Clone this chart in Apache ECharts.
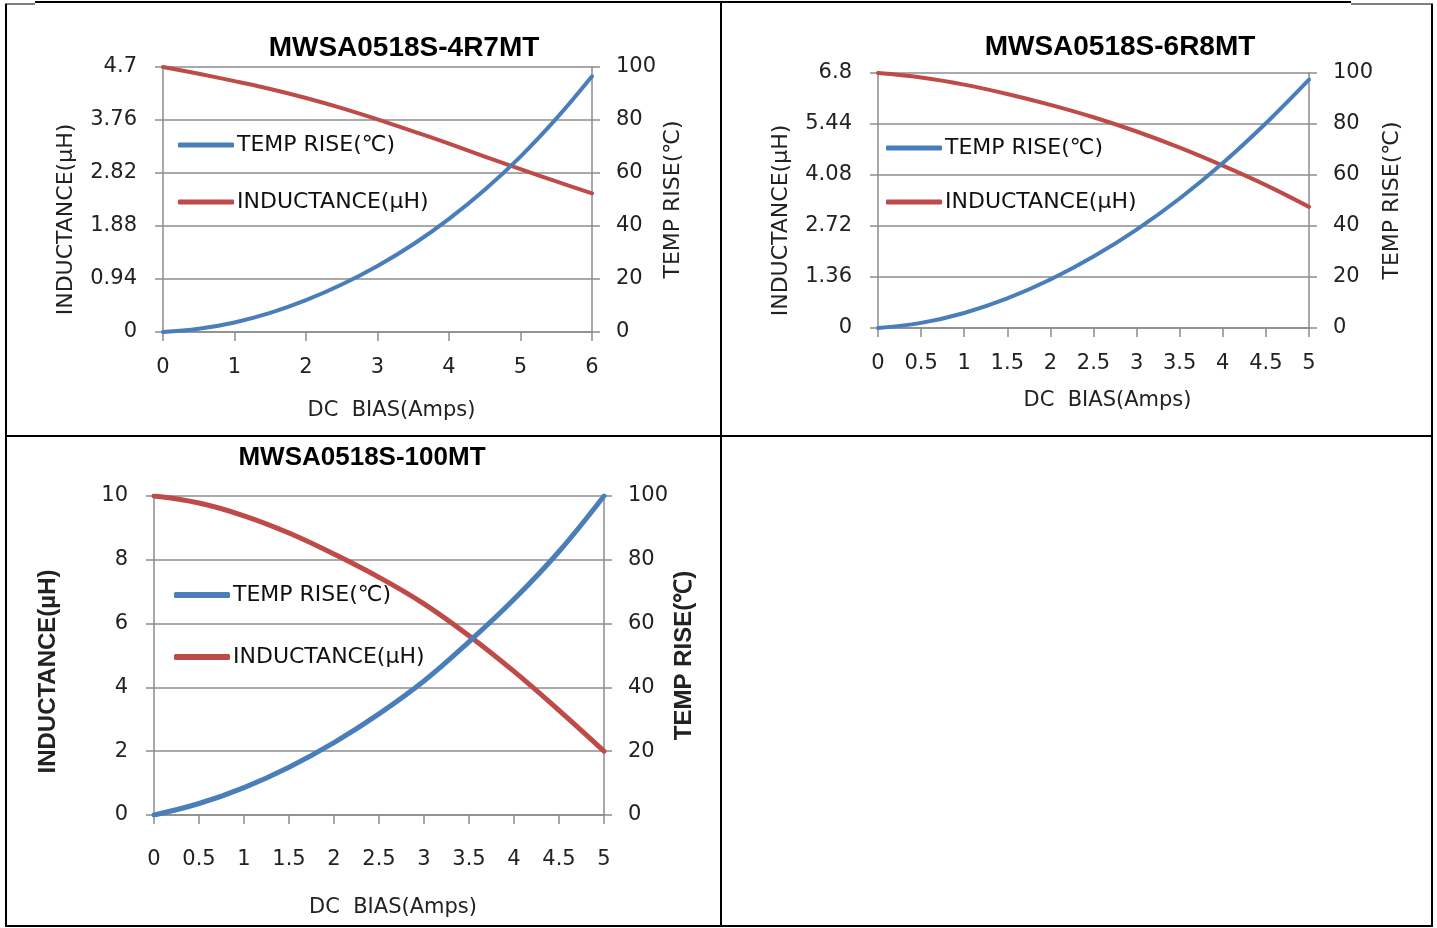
<!DOCTYPE html>
<html><head><meta charset="utf-8">
<script src="https://cdn.jsdelivr.net/npm/echarts@6/dist/echarts.min.js"></script>
<style>html,body{margin:0;padding:0;background:#fff;}#c{width:1437px;height:928px;}</style>
</head><body><div id="c"></div>
<script>
// ---- data ----
const chartTitles = ['MWSA0518S-4R7MT', 'MWSA0518S-6R8MT', 'MWSA0518S-100MT'];
const tempName = 'TEMP RISE(℃)';
const indName = 'INDUCTANCE(µH)';
const xName = 'DC  BIAS(Amps)';

const c1Bias = [0, 0.5, 1, 1.5, 2, 2.5, 3, 3.5, 4, 4.5, 5, 5.5, 6];
const c1Temp = [0, 1.2, 3.6, 7.2, 12, 17.9, 24.9, 33.1, 42.7, 53.7, 66.2, 80.5, 96.5];
const c1Ind = [4.7, 4.58, 4.45, 4.31, 4.15, 3.97, 3.77, 3.56, 3.34, 3.11, 2.89, 2.67, 2.46];
const c1IndTicks = ['0', '0.94', '1.88', '2.82', '3.76', '4.7'];

const c2Bias = [0, 0.5, 1, 1.5, 2, 2.5, 3, 3.5, 4, 4.5, 5];
const c2Temp = [0, 2.0, 5.9, 11.6, 19, 28, 38.6, 50.8, 64.7, 80.3, 97.4];
const c2Ind = [6.8, 6.68, 6.49, 6.24, 5.95, 5.62, 5.24, 4.81, 4.33, 3.81, 3.23];
const c2IndTicks = ['0', '1.36', '2.72', '4.08', '5.44', '6.8'];

const c3Bias = [0, 0.5, 1, 1.5, 2, 2.5, 3, 3.5, 4, 4.5, 5];
const c3Temp = [0, 3.6, 8.6, 15, 22.7, 31.7, 42, 54.3, 67.6, 82.6, 100];
const c3Ind = [10, 9.78, 9.38, 8.84, 8.18, 7.45, 6.62, 5.62, 4.5, 3.28, 2.0];
const c3IndTicks = ['0', '2', '4', '6', '8', '10'];

const tempTicks = ['0', '20', '40', '60', '80', '100'];

// ---- styling / layout ----
const BLUE = '#4A7EBB', RED = '#BE4B48', GRID = '#8c8c8c', TXT = '#222';
const tickFont = { fontFamily: 'DejaVu Sans', fontSize: 21, color: TXT };
const pairs = (xs, ys) => xs.map((x, i) => [x, ys[i]]);

const charts = [
  { bias: c1Bias, temp: c1Temp, ind: c1Ind, indTicks: c1IndTicks, indMax: 4.7, indStep: 0.94, xMax: 6, xStep: 1,
    grid: { left: 163, top: 67, width: 429, height: 265 },
    title: { x: 404, y: 48, font: 'Liberation Sans', size: 28 },
    nameFont: { fontFamily: 'DejaVu Sans', fontSize: 22, fontWeight: 'normal' }, xNameSize: 21,
    leftGap: 86, rightGap: 70, leftShift: 40, xGap: 68, xLabelMargin: 25,
    legend: { left: 178, top: 134, gap: 35, h: 5 }, lw: 4 },
  { bias: c2Bias, temp: c2Temp, ind: c2Ind, indTicks: c2IndTicks, indMax: 6.8, indStep: 1.36, xMax: 5, xStep: 0.5,
    grid: { left: 878, top: 73, width: 431, height: 255 },
    title: { x: 1120, y: 47, font: 'Liberation Sans', size: 28 },
    nameFont: { fontFamily: 'DejaVu Sans', fontSize: 22, fontWeight: 'normal' }, xNameSize: 21,
    leftGap: 86, rightGap: 72, leftShift: 40, xGap: 62, xLabelMargin: 25,
    legend: { left: 886, top: 137, gap: 32, h: 5 }, lw: 4 },
  { bias: c3Bias, temp: c3Temp, ind: c3Ind, indTicks: c3IndTicks, indMax: 10, indStep: 2, xMax: 5, xStep: 0.5,
    grid: { left: 154, top: 496, width: 450, height: 319 },
    title: { x: 362, y: 458, font: 'Liberation Sans', size: 26 },
    nameFont: { fontFamily: 'Liberation Sans', fontSize: 24, fontWeight: 'bold' }, xNameSize: 21,
    leftGap: 94, rightGap: 67, leftShift: 32, xGap: 82, xLabelMargin: 34,
    legend: { left: 174, top: 584, gap: 40, h: 6 }, lw: 5 }
];

const option = {
  animation: false,
  backgroundColor: '#fff',
  title: [], grid: [], xAxis: [], yAxis: [], series: [], legend: [],
  graphic: []
};

charts.forEach((c, k) => {
  option.title.push({
    text: chartTitles[k], left: c.title.x, top: c.title.y, padding: 0,
    textAlign: 'center', textVerticalAlign: 'middle',
    textStyle: { fontFamily: c.title.font, fontSize: c.title.size, fontWeight: 'bold', color: '#000' }
  });
  option.grid.push(Object.assign({ containLabel: false, outerBoundsMode: 'none' }, c.grid));
  option.xAxis.push({
    type: 'value', gridIndex: k, min: 0, max: c.xMax, interval: c.xStep,
    name: xName, nameLocation: 'middle', nameGap: c.xGap,
    nameTextStyle: { fontFamily: 'DejaVu Sans', fontSize: c.xNameSize, color: TXT, padding: [0, 0, 0, 28] },
    axisLine: { show: true, lineStyle: { color: GRID, width: 1.5 } },
    axisTick: { show: true, length: 9, lineStyle: { color: GRID, width: 1.5 } },
    axisLabel: Object.assign({ margin: c.xLabelMargin }, tickFont),
    splitLine: { show: false }
  });
  option.yAxis.push({
    type: 'value', gridIndex: k, position: 'left', min: 0, max: c.indMax, interval: c.indStep,
    name: indName, nameLocation: 'middle', nameRotate: 90, nameGap: c.leftGap,
    nameTextStyle: Object.assign({ color: TXT, padding: [0, c.leftShift, 0, 0] }, c.nameFont),
    axisLine: { show: true, lineStyle: { color: GRID, width: 1.5 } },
    axisTick: { show: true, length: 8, lineStyle: { color: GRID, width: 1.5 } },
    axisLabel: Object.assign({ margin: 26, formatter: (v, i) => c.indTicks[i] }, tickFont),
    splitLine: { show: true, lineStyle: { color: GRID, width: 1.5 } }
  });
  option.yAxis.push({
    type: 'value', gridIndex: k, position: 'right', min: 0, max: 100, interval: 20,
    name: tempName, nameLocation: 'middle', nameRotate: 90, nameGap: c.rightGap,
    nameTextStyle: Object.assign({ color: TXT }, c.nameFont),
    axisLine: { show: true, lineStyle: { color: GRID, width: 1.5 } },
    axisTick: { show: true, length: 8, lineStyle: { color: GRID, width: 1.5 } },
    axisLabel: Object.assign({ margin: 24, formatter: (v, i) => tempTicks[i] }, tickFont),
    splitLine: { show: false }
  });
  option.series.push({
    name: tempName, type: 'line', xAxisIndex: k, yAxisIndex: 2 * k + 1,
    data: pairs(c.bias, c.temp), smooth: 0.4, showSymbol: false, symbol: 'none',
    lineStyle: { color: BLUE, width: c.lw, cap: 'round' }, itemStyle: { color: BLUE }, z: 3
  });
  option.series.push({
    name: indName, type: 'line', xAxisIndex: k, yAxisIndex: 2 * k,
    data: pairs(c.bias, c.ind), smooth: 0.4, showSymbol: false, symbol: 'none',
    lineStyle: { color: RED, width: c.lw, cap: 'round' }, itemStyle: { color: RED }, z: 2
  });
  option.legend.push({
    orient: 'vertical', left: c.legend.left, top: c.legend.top, padding: 0,
    itemGap: c.legend.gap, itemWidth: 56, itemHeight: c.legend.h, icon: 'roundRect',
    data: [tempName, indName], selectedMode: false,
    textStyle: { fontFamily: 'DejaVu Sans', fontSize: 22, color: '#111', padding: [0, 0, 0, -2] }
  });
});

// table frame
const L = (x1, y1, x2, y2, w) => ({ type: 'line', silent: true, shape: { x1, y1, x2, y2 }, style: { stroke: '#000', lineWidth: w } });
option.graphic = [
  L(35, 2, 1351, 2, 2),
  L(5, 4, 35, 4, 1),
  L(1351, 4, 1433, 4, 1),
  L(6, 4, 6, 927, 2),
  L(1432, 4, 1432, 927, 2),
  L(721, 1, 721, 927, 2),
  L(5, 436, 1433, 436, 2),
  L(5, 926, 1433, 926, 2)
];

const chart = echarts.init(document.getElementById('c'), null, { renderer: 'canvas' });
chart.setOption(option);
</script></body></html>
